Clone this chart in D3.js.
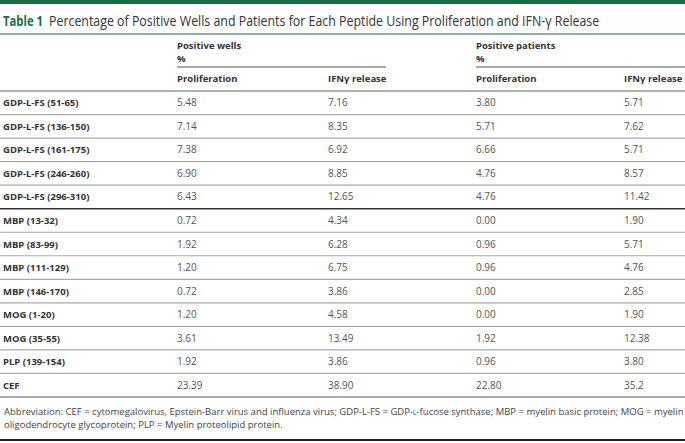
<!DOCTYPE html>
<html><head><meta charset="utf-8">
<script src="https://cdn.jsdelivr.net/npm/d3@7"></script>
<style>
html,body{margin:0;padding:0;background:#fff;}
svg{display:block;font-family:"Open Sans",sans-serif;}
</style></head>
<body><div id="chart"></div>
<script>
const peptides = ["GDP-L-FS (51-65)","GDP-L-FS (136-150)","GDP-L-FS (161-175)","GDP-L-FS (246-260)","GDP-L-FS (296-310)","MBP (13-32)","MBP (83-99)","MBP (111-129)","MBP (146-170)","MOG (1-20)","MOG (35-55)","PLP (139-154)","CEF"];
const wellsProliferation = ["5.48","7.14","7.38","6.90","6.43","0.72","1.92","1.20","0.72","1.20","3.61","1.92","23.39"];
const wellsIFN = ["7.16","8.35","6.92","8.85","12.65","4.34","6.28","6.75","3.86","4.58","13.49","3.86","38.90"];
const patientsProliferation = ["3.80","5.71","6.66","4.76","4.76","0.00","0.96","0.96","0.00","0.00","1.92","0.96","22.80"];
const patientsIFN = ["5.71","7.62","5.71","8.57","11.42","1.90","5.71","4.76","2.85","1.90","12.38","3.80","35.2"];
const groups = ["Positive wells","Positive patients"];
const subHeaders = ["Proliferation","IFNγ release","Proliferation","IFNγ release"];
const columns = [wellsProliferation, wellsIFN, patientsProliferation, patientsIFN];

const W = 685, H = 443;
const green = "#1b6b47";
const svg = d3.select("#chart").append("svg").attr("width", W).attr("height", H);

// top bar
svg.append("rect").attr("x",0).attr("y",0).attr("width",W).attr("height",4).attr("fill",green);

// title (condensed look via horizontal scale)
function fitText(sel, x0, y0, width){
  const len = sel.node().getComputedTextLength();
  sel.attr("transform", `translate(${x0},${y0}) scale(${width/len},1)`);
}
const t1 = svg.append("text").attr("font-size",14.5).attr("font-weight",700).attr("fill",green).text("Table 1");
fitText(t1, 3, 26, 40);
const t2 = svg.append("text").attr("font-size",14.5).attr("fill","#333")
  .text("Percentage of Positive Wells and Patients for Each Peptide Using Proliferation and IFN-γ Release");
fitText(t2, 49, 26, 551);
svg.append("line").attr("x1",0).attr("x2",W).attr("y1",34).attr("y2",34).attr("stroke",green).attr("stroke-width",1.2);

// scales
const x = d3.scaleOrdinal().domain(d3.range(4)).range([177, 328, 476, 624]);
const y = d3.scaleBand().domain(peptides).range([91, 397]).padding(0);

// group headers
const gx = [x(0), x(2)];
const gEnd = [386, W];
groups.forEach((g,i)=>{
  svg.append("text").attr("x",gx[i]).attr("y",49).attr("font-size",9.5).attr("font-weight",700).attr("fill","#333").text(g);
  svg.append("text").attr("x",gx[i]).attr("y",62).attr("font-size",9.5).attr("font-weight",700).attr("fill","#333").text("%");
  svg.append("line").attr("x1",gx[i]).attr("x2",gEnd[i]).attr("y1",67).attr("y2",67).attr("stroke","#555").attr("stroke-width",1);
});
subHeaders.forEach((s,i)=>{
  svg.append("text").attr("x",x(i)).attr("y",82).attr("font-size",9.5).attr("font-weight",700).attr("fill","#333").text(s);
});
svg.append("line").attr("x1",0).attr("x2",W).attr("y1",91).attr("y2",91).attr("stroke","#999").attr("stroke-width",1.5);

// rows
const rows = svg.append("g").selectAll("g").data(peptides).join("g");
rows.append("text").attr("x",3).attr("y",d=>y(d)+y.bandwidth()/2+3.5)
  .attr("font-size",9.5).attr("font-weight",700).attr("fill","#333").text(d=>d);
columns.forEach((col,ci)=>{
  rows.append("text").attr("x",x(ci)).attr("y",d=>y(d)+y.bandwidth()/2+3.5)
    .attr("font-size",10).attr("fill","#555").text((d,i)=>col[i]);
});
rows.filter((d,i)=>i<peptides.length-1).append("line")
  .attr("x1",0).attr("x2",W)
  .attr("y1",d=>y(d)+y.bandwidth()).attr("y2",d=>y(d)+y.bandwidth())
  .attr("stroke",(d,i)=> i===4 ? "#333" : "#aaa").attr("stroke-width",(d,i)=> i===4 ? 1.5 : 1.2);
svg.append("line").attr("x1",0).attr("x2",W).attr("y1",397).attr("y2",397).attr("stroke","#aaa").attr("stroke-width",2);

// footnote
const f1 = svg.append("text").attr("x",4).attr("y",415).attr("font-size",9.5).attr("fill","#444");
f1.append("tspan").text("Abbreviation: CEF = cytomegalovirus, Epstein-Barr virus and influenza virus; GDP-L-FS = GDP-");
f1.append("tspan").attr("font-size",6.8).text("L");
f1.append("tspan").text("-fucose synthase; MBP = myelin basic protein; MOG = myelin");
svg.append("text").attr("x",4).attr("y",428).attr("font-size",9.5).attr("fill","#444")
  .text("oligodendrocyte glycoprotein; PLP = Myelin proteolipid protein.");
svg.append("line").attr("x1",0).attr("x2",W).attr("y1",440).attr("y2",440).attr("stroke","#222").attr("stroke-width",2);
</script></body></html>
